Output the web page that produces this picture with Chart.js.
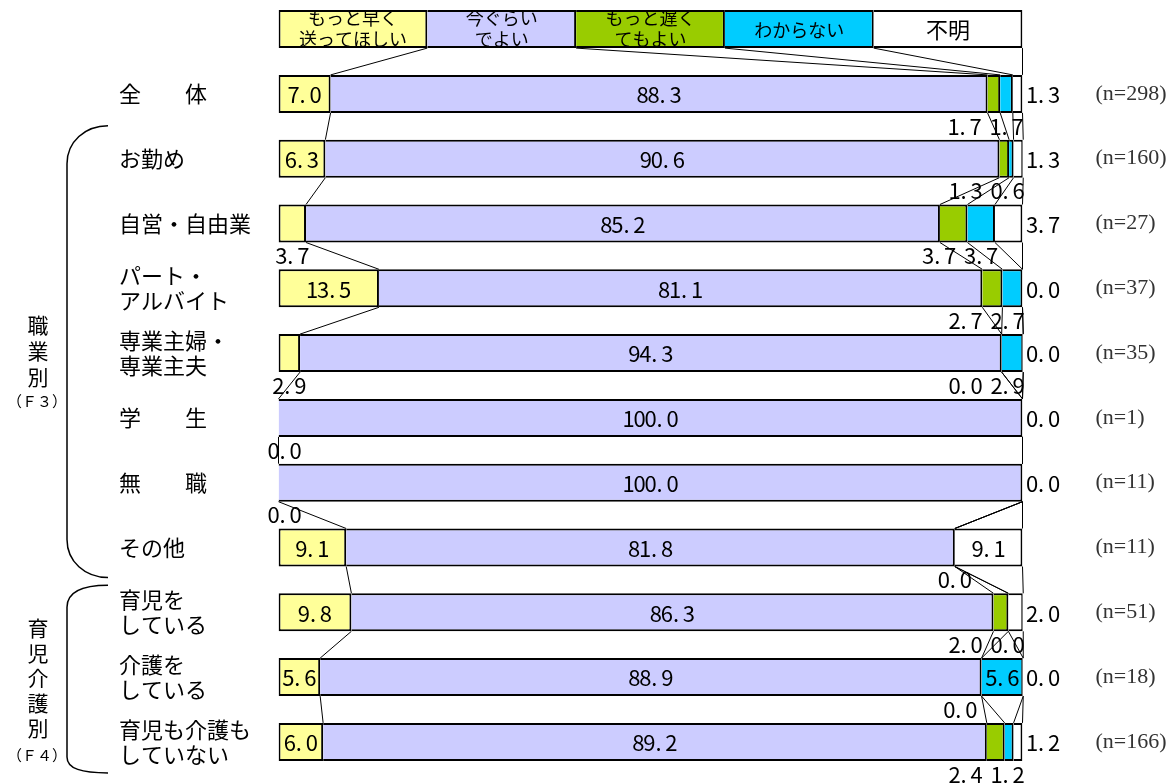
<!DOCTYPE html>
<html lang="ja">
<head>
<meta charset="utf-8">
<script src="https://cdn.jsdelivr.net/npm/chart.js@4.4.0/dist/chart.umd.min.js"></script>
<style>
  html, body { margin: 0; padding: 0; overflow: hidden; background: #fff; width: 1176px; height: 784px; }
  #wrap { position: absolute; left: 0; top: -60px; width: 1176px; height: 900px; }
</style>
</head>
<body>
<div id="wrap"><canvas id="chart"></canvas></div>
<script>
// rows (top to bottom)
const categories = [
  ['全　　体'], ['お勤め'], ['自営・自由業'], ['パート・', 'アルバイト'], ['専業主婦・', '専業主夫'],
  ['学　　生'], ['無　　職'], ['その他'], ['育児を', 'している'], ['介護を', 'している'], ['育児も介護も', 'していない']
];
const sampleSizes = ['(n=298)', '(n=160)', '(n=27)', '(n=37)', '(n=35)', '(n=1)', '(n=11)', '(n=11)', '(n=51)', '(n=18)', '(n=166)'];
const seriesNames = [['もっと早く', '送ってほしい'], ['今ぐらい', 'でよい'], ['もっと遅く', 'てもよい'], ['わからない'], ['不明']];
const seriesColors = ['#FFFF99', '#CCCCFF', '#99CC00', '#00CCFF', '#FFFFFF'];

// percentages
const sooner   = [7.0, 6.3, 3.7, 13.5, 2.9, 0.0, 0.0, 9.1, 9.8, 5.6, 6.0];
const asNow    = [88.3, 90.6, 85.2, 81.1, 94.3, 100.0, 100.0, 81.8, 86.3, 88.9, 89.2];
const later    = [1.7, 1.3, 3.7, 2.7, 0.0, 0.0, 0.0, 0.0, 2.0, 0.0, 2.4];
const dontKnow = [1.7, 0.6, 3.7, 2.7, 2.9, 0.0, 0.0, 0.0, 0.0, 5.6, 1.2];
const unknown  = [1.3, 1.3, 3.7, 0.0, 0.0, 0.0, 0.0, 9.1, 2.0, 0.0, 1.2];

// labels left off in the original: [row, series]
const hiddenLabels = [[5, 2], [5, 3], [6, 2], [6, 3], [7, 2]];

// the legend is drawn as a top row of equal boxes
const legendShare = 20;

const series = [sooner, asNow, later, dontKnow, unknown];
const JP = '"Noto Sans CJK JP", "Noto Sans CJK SC", sans-serif';
const CELL = 11;

function drawCells(ctx, text, x, y, align) {
  const w = text.length * CELL;
  const left = align === 'left' ? x : align === 'right' ? x - w : x - w / 2;
  ctx.textAlign = 'center';
  ctx.textBaseline = 'middle';
  for (let i = 0; i < text.length; i++) {
    const ch = text[i];
    ctx.fillText(ch, left + CELL * (i + 0.5) - (ch === '.' ? 2 : 0), y);
  }
}

function isHidden(r, s) {
  return hiddenLabels.some(h => h[0] === r && h[1] === s);
}

const overlay = {
  id: 'overlay',
  afterDatasetsDraw(chart) {
    const ctx = chart.ctx;
    const area = chart.chartArea;
    const ys = chart.scales.y;
    const half = (ys.getPixelForValue(1) - ys.getPixelForValue(0)) / 2;
    const metas = series.map((_, s) => chart.getDatasetMeta(s));
    ctx.save();

    // series lines between rows
    ctx.strokeStyle = '#000';
    ctx.lineWidth = 1;
    for (let i = 0; i < categories.length; i++) {
      for (let s = 0; s < series.length; s++) {
        const a = metas[s].data[i], b = metas[s].data[i + 1];
        ctx.beginPath();
        ctx.moveTo(a.x, a.y + a.height / 2);
        ctx.lineTo(b.x, b.y - b.height / 2);
        ctx.stroke();
      }
    }

    // legend texts inside the top row
    ctx.fillStyle = '#000';
    ctx.textAlign = 'center';
    ctx.textBaseline = 'middle';
    for (let s = 0; s < series.length; s++) {
      const el = metas[s].data[0];
      const l = Math.min(el.base, el.x), r = Math.max(el.base, el.x);
      const top = el.y - el.height / 2;
      ctx.save();
      ctx.beginPath();
      ctx.rect(l, top + 1, r - l, el.height - 2);
      ctx.clip();
      const lines = seriesNames[s];
      ctx.font = (lines.length === 1 && lines[0].length < 3 ? 22 : 18) + 'px ' + JP;
      if (lines.length === 1) ctx.fillText(lines[0], (l + r) / 2, el.y + 1);
      else {
        ctx.fillText(lines[0], (l + r) / 2, el.y - 11);
        ctx.fillText(lines[1], (l + r) / 2, el.y + 10);
      }
      ctx.restore();
    }

    // value labels
    ctx.font = '22px ' + JP;
    ctx.fillStyle = '#000';
    for (let r = 0; r < categories.length; r++) {
      const idx = r + 1;
      const seg = metas.map(m => {
        const el = m.data[idx];
        return { l: Math.min(el.base, el.x), r: Math.max(el.base, el.x), y: el.y };
      });
      const c3 = Math.min((seg[3].l + seg[3].r) / 2, area.right - 15);
      for (let s = 0; s < series.length; s++) {
        if (isHidden(r, s)) continue;
        const v = series[s][r];
        const txt = v.toFixed(1);
        const g = seg[s];
        const mid = (g.l + g.r) / 2;
        if (s === 1 || v >= 5) {
          drawCells(ctx, txt, mid, g.y + 1, 'center');
        } else if (s === 0) {
          drawCells(ctx, txt, Math.max(mid, area.left + 6), g.y + half, 'center');
        } else if (s === 4) {
          drawCells(ctx, txt, area.right + 4, g.y + 1, 'left');
        } else if (s === 3) {
          drawCells(ctx, txt, c3, g.y + half, 'center');
        } else {
          drawCells(ctx, txt, Math.min(mid, c3 - 42), g.y + half, 'center');
        }
      }
    }
    ctx.restore();
  },
  afterDraw(chart) {
    const ctx = chart.ctx;
    const ys = chart.scales.y;
    const px = i => ys.getPixelForValue(i);
    ctx.save();
    ctx.strokeStyle = '#000';
    ctx.lineWidth = 1.5;

    // bracket for occupation rows
    let top = px(2) - 33, bot = px(8) + 30;
    ctx.beginPath();
    ctx.moveTo(108, top);
    ctx.bezierCurveTo(85, top, 67, top + 16, 67, top + 38);
    ctx.lineTo(67, bot - 38);
    ctx.bezierCurveTo(67, bot - 16, 85, bot, 108, bot);
    ctx.stroke();

    // bracket for childcare / nursing rows
    top = px(9) - 27; bot = px(11) + 31;
    ctx.beginPath();
    ctx.moveTo(108, top);
    ctx.bezierCurveTo(82, top, 67, top + 6, 67, top + 22);
    ctx.lineTo(67, bot - 16);
    ctx.bezierCurveTo(67, bot - 4, 82, bot, 108, bot);
    ctx.stroke();

    // group captions
    ctx.fillStyle = '#000';
    ctx.textAlign = 'center';
    ctx.textBaseline = 'middle';
    ctx.font = '21px ' + JP;
    const g1 = ['職', '業', '別'];
    g1.forEach((ch, k) => ctx.fillText(ch, 38, px(5) - 28 + 26 * k));
    const g2 = ['育', '児', '介', '護', '別'];
    g2.forEach((ch, k) => ctx.fillText(ch, 38, px(10) - 49 + 25 * k));
    ctx.font = '15px ' + JP;
    ctx.fillText('（Ｆ３）', 37, px(5) + 48);
    ctx.fillText('（Ｆ４）', 37, px(10) + 78);
    ctx.restore();
  }
};

const datasets = series.map((vals, s) => ({
  label: seriesNames[s].join(''),
  data: [legendShare].concat(vals),
  backgroundColor: seriesColors[s],
  borderColor: '#000',
  borderWidth: { top: 2, bottom: 2, right: 2, left: s === 0 ? 2 : 0 },
  borderSkipped: false,
  barThickness: 38,
  inflateAmount: 0
}));

new Chart(document.getElementById('chart'), {
  type: 'bar',
  data: { labels: [''].concat(categories), datasets },
  options: {
    responsive: true,
    maintainAspectRatio: false,
    animation: false,
    indexAxis: 'y',
    layout: { padding: { left: 119, right: 0, top: 56.7, bottom: 65.7 } },
    plugins: { legend: { display: false }, tooltip: { enabled: false } },
    scales: {
      x: { stacked: true, min: 0, max: 100, display: false },
      y: {
        stacked: true,
        grid: { display: false },
        border: { display: false },
        ticks: { autoSkip: false, crossAlign: 'far', color: '#000', font: { family: JP, size: 22, lineHeight: 1.15 } },
        afterFit(scale) { scale.width = 159.5; }
      },
      y2: {
        type: 'category',
        labels: [''].concat(sampleSizes),
        position: 'right',
        offset: true,
        grid: { display: true, drawOnChartArea: false, drawTicks: true, tickLength: 70, color: 'rgba(0,0,0,0)' },
        border: { display: false },
        ticks: { autoSkip: false, crossAlign: 'near', padding: 3, color: '#333', font: { family: '"Liberation Serif", serif', size: 22 } },
        afterFit(scale) { scale.width = 153.5; }
      }
    }
  },
  plugins: [overlay]
});
</script>
</body>
</html>
